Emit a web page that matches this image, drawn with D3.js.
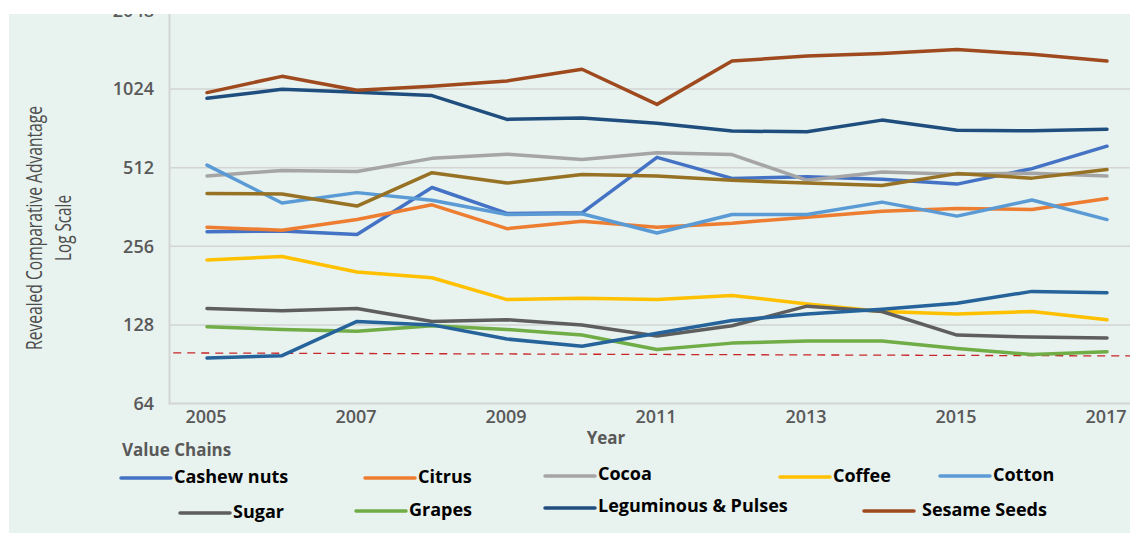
<!DOCTYPE html>
<html>
<head>
<meta charset="utf-8">
<script src="https://cdn.jsdelivr.net/npm/d3@7"></script>
<style>
  html, body { margin: 0; padding: 0; background: #ffffff; }
  svg { display: block; }
</style>
</head>
<body>
<div id="chart"></div>
<script>
// data (log2 scale)
const YEARS = [2005, 2006, 2007, 2008, 2009, 2010, 2011, 2012, 2013, 2014, 2015, 2016, 2017];
const Y_TICKS = [64, 128, 256, 512, 1024, 2048];
const X_TICKS = [2005, 2007, 2009, 2011, 2013, 2015, 2017];

const CASHEW     = [291, 293, 284, 430, 342, 344, 561, 466, 473, 462, 443, 508, 619];
const CITRUS     = [303, 295, 324, 369, 299, 319, 303, 314, 331, 349, 357, 354, 390];
const COCOA      = [476, 500, 495, 556, 577, 550, 584, 575, 458, 493, 483, 488, 476];
const COFFEE     = [227, 234, 204, 194, 160, 162, 160, 166, 154, 144, 141, 144, 134];
const COTTON     = [524, 375, 411, 384, 339, 341, 288, 339, 339, 378, 334, 385, 324];
const SUGAR      = [148, 145, 148, 132, 134, 128, 116, 127, 151, 144, 117, 115, 114];
const GRAPES     = [126, 123, 121, 127, 123, 117, 103, 109, 111, 111, 104, 98.5, 101];
const LEGUMINOUS = [944, 1022, 996, 967, 784, 793, 757, 707, 703, 779, 713, 709, 719];
const SESAME     = [993, 1146, 1013, 1050, 1100, 1220, 895, 1311, 1370, 1401, 1452, 1392, 1311];
// two extra series drawn in the chart but missing from its legend
const UNLABELED_OLIVE = [408, 406, 365, 490, 447, 482, 476, 458, 447, 438, 486, 467, 504];
const UNLABELED_BLUE  = [95.6, 97.6, 132, 128, 113, 106, 119, 133, 141, 147, 155, 172, 170];

// red dashed reference line (slightly tilted in the original)
const THRESHOLD = [{year: 2004.55, value: 100}, {year: 2017.5, value: 97.3}];

const SERIES = [
  {name: "Cashew nuts", values: CASHEW, color: "#4472C4"},
  {name: "Citrus", values: CITRUS, color: "#ED7D31"},
  {name: "Cocoa", values: COCOA, color: "#A5A5A5"},
  {name: "Coffee", values: COFFEE, color: "#FFC000"},
  {name: "Cotton", values: COTTON, color: "#5B9BD5"},
  {name: "Sugar", values: SUGAR, color: "#5E5E5E"},
  {name: "Grapes", values: GRAPES, color: "#70AD47"},
  {name: null, values: UNLABELED_OLIVE, color: "#977225"},
  {name: "Leguminous & Pulses", values: LEGUMINOUS, color: "#1F4E7E"},
  {name: null, values: UNLABELED_BLUE, color: "#25639A"},
  {name: "Sesame Seeds", values: SESAME, color: "#9E4A1E"}
];

// legend layout (symbol start x, symbol y, text baseline)
const LEGEND_LAYOUT = {
  "Cashew nuts":         {x: 121, y: 478, base: 483},
  "Citrus":              {x: 365, y: 478, base: 483},
  "Cocoa":               {x: 545, y: 476, base: 480},
  "Coffee":              {x: 780, y: 477, base: 482},
  "Cotton":              {x: 940, y: 476, base: 481},
  "Sugar":               {x: 180, y: 513, base: 518},
  "Grapes":              {x: 356, y: 511, base: 516},
  "Leguminous & Pulses": {x: 545, y: 508, base: 512},
  "Sesame Seeds":        {x: 864, y: 511, base: 516}
};

const WIDTH = 1130;
const HEIGHT = 533;
const PANEL = {x: 9, y: 14, w: WIDTH - 9, h: HEIGHT - 14};
const PLOT_LEFT = 169.5;
const PLOT_BOTTOM = 403.5;
const GREY_TEXT = "#595959";
const GRID = "#D2D5D3";

const svg = d3.select("#chart").append("svg")
  .attr("width", WIDTH)
  .attr("height", HEIGHT);

svg.append("defs").append("clipPath")
  .attr("id", "panel-clip")
  .append("rect")
  .attr("x", PANEL.x).attr("y", PANEL.y)
  .attr("width", PANEL.w).attr("height", PANEL.h);

const panel = svg.append("g").attr("clip-path", "url(#panel-clip)");

panel.append("rect")
  .attr("x", PANEL.x).attr("y", PANEL.y)
  .attr("width", PANEL.w).attr("height", PANEL.h)
  .attr("fill", "#E8F2EE");

const x = d3.scaleLinear()
  .domain([2004.5, 2017.5])
  .range([PLOT_LEFT, PLOT_LEFT + 13 * 75]);

const y = d3.scaleLog()
  .base(2)
  .domain([64, 2048])
  .range([PLOT_BOTTOM, PLOT_BOTTOM - 5 * 78.6]);

// GRIDLINES
panel.append("g")
  .selectAll("line")
  .data(Y_TICKS)
  .join("line")
  .attr("x1", PLOT_LEFT)
  .attr("x2", WIDTH)
  .attr("y1", d => y(d))
  .attr("y2", d => y(d))
  .attr("stroke", GRID)
  .attr("stroke-width", d => d === 64 ? 2 : 1.5);

// y axis line
panel.append("line")
  .attr("x1", PLOT_LEFT).attr("x2", PLOT_LEFT)
  .attr("y1", 0).attr("y2", PLOT_BOTTOM + 1)
  .attr("stroke", GRID)
  .attr("stroke-width", 2);

// Y TICK LABELS (the top one, 2048, is cut by the panel edge as in the original)
panel.append("g")
  .selectAll("text")
  .data(Y_TICKS)
  .join("text")
  .attr("x", 154)
  .attr("y", d => y(d))
  .attr("dy", "0.35em")
  .attr("text-anchor", "end")
  .attr("font-family", "'Open Sans', sans-serif")
  .attr("font-weight", 600)
  .attr("font-size", 18)
  .attr("fill", GREY_TEXT)
  .text(d => d);

// X TICK LABELS
panel.append("g")
  .selectAll("text")
  .data(X_TICKS)
  .join("text")
  .attr("x", d => x(d) - 1)
  .attr("y", 423)
  .attr("text-anchor", "middle")
  .attr("font-family", "'Open Sans', sans-serif")
  .attr("font-weight", 600)
  .attr("font-size", 18)
  .attr("fill", GREY_TEXT)
  .text(d => d);

// axis titles (condensed to the width of the original)
const yTitle = panel.append("text")
  .attr("transform", "translate(0,228) rotate(-90)")
  .attr("text-anchor", "middle")
  .attr("font-family", "'Open Sans', sans-serif")
  .attr("font-weight", 500)
  .attr("font-size", 22)
  .attr("fill", "#4D4D4D");
yTitle.append("tspan")
  .attr("x", 0).attr("y", 42)
  .attr("textLength", 244)
  .attr("lengthAdjust", "spacingAndGlyphs")
  .text("Revealed Comparative Advantage");
yTitle.append("tspan")
  .attr("x", 0).attr("y", 71)
  .attr("textLength", 66)
  .attr("lengthAdjust", "spacingAndGlyphs")
  .text("Log Scale");

panel.append("text")
  .attr("x", 606)
  .attr("y", 444)
  .attr("text-anchor", "middle")
  .attr("font-family", "'Open Sans', sans-serif")
  .attr("font-weight", 700)
  .attr("font-size", 17)
  .attr("fill", GREY_TEXT)
  .text("Year");

panel.append("text")
  .attr("x", 122)
  .attr("y", 456)
  .attr("font-family", "'Open Sans', sans-serif")
  .attr("font-weight", 700)
  .attr("font-size", 17)
  .attr("fill", GREY_TEXT)
  .text("Value Chains");

// THRESHOLD
const line = d3.line()
  .x(d => x(d.year))
  .y(d => y(d.value));

panel.append("path")
  .datum(THRESHOLD)
  .attr("d", line)
  .attr("fill", "none")
  .attr("stroke", "#C8262B")
  .attr("stroke-width", 1.3)
  .attr("stroke-dasharray", "8,6");

// SERIES
panel.append("g")
  .selectAll("path")
  .data(SERIES)
  .join("path")
  .attr("d", s => line(s.values.map((v, i) => ({year: YEARS[i], value: v}))))
  .attr("fill", "none")
  .attr("stroke", s => s.color)
  .attr("stroke-width", 3.5)
  .attr("stroke-linejoin", "round")
  .attr("stroke-linecap", "round");

// LEGEND
const legend = panel.append("g")
  .selectAll("g")
  .data(SERIES.filter(s => s.name))
  .join("g");

legend.append("line")
  .attr("x1", s => LEGEND_LAYOUT[s.name].x)
  .attr("x2", s => LEGEND_LAYOUT[s.name].x + 50)
  .attr("y1", s => LEGEND_LAYOUT[s.name].y)
  .attr("y2", s => LEGEND_LAYOUT[s.name].y)
  .attr("stroke", s => s.color)
  .attr("stroke-width", 3.5)
  .attr("stroke-linecap", "round");

legend.append("text")
  .attr("x", s => LEGEND_LAYOUT[s.name].x + (s.name === "Sesame Seeds" ? 58 : 53))
  .attr("y", s => LEGEND_LAYOUT[s.name].base)
  .attr("font-family", "'Open Sans', sans-serif")
  .attr("font-weight", 700)
  .attr("font-size", 18)
  .attr("fill", "#000000")
  .text(s => s.name);
</script>
</body>
</html>
